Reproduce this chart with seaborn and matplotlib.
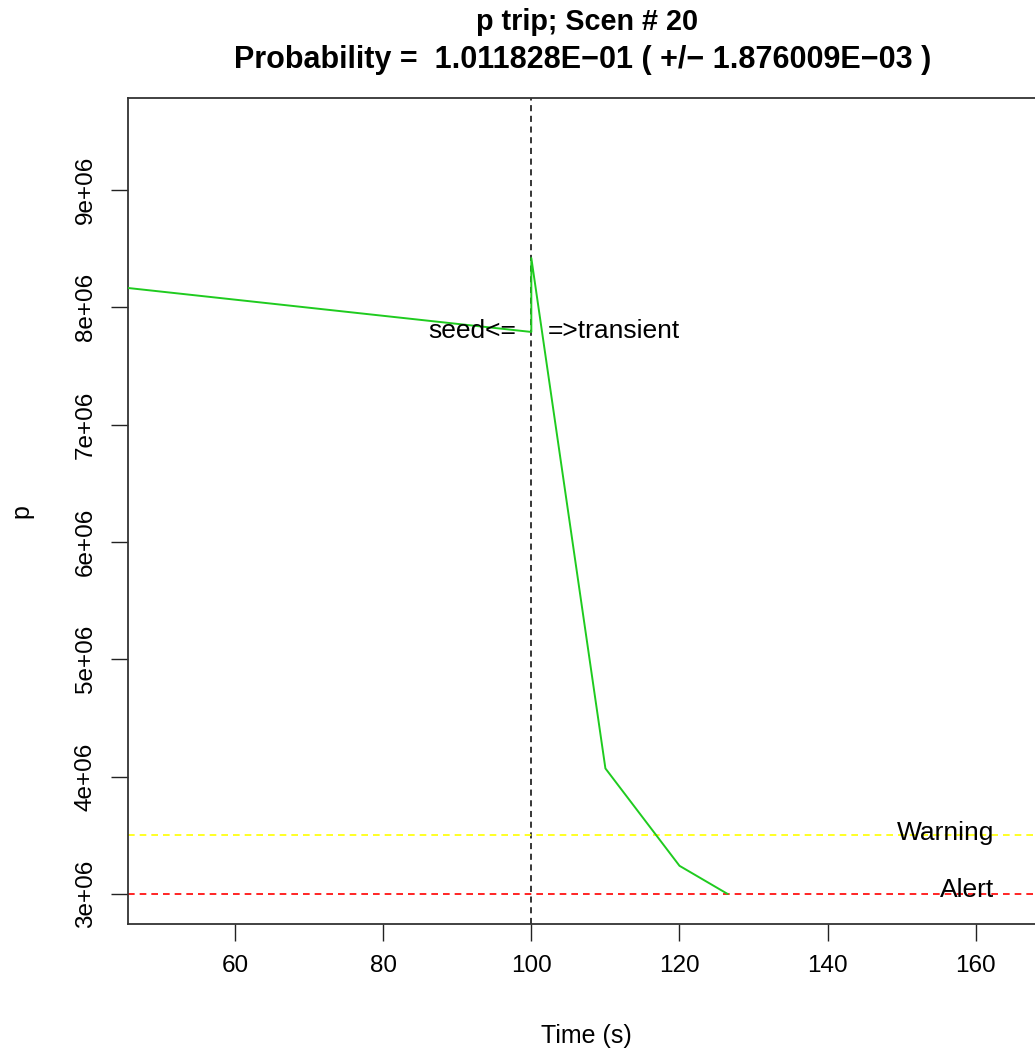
import matplotlib
matplotlib.use("Agg")
import matplotlib.pyplot as plt
import seaborn as sns
import pandas as pd

time_s = [40.0, 100.0, 100.0, 110.0, 120.0, 126.5]
pressure = [8.203e6, 7.79e6, 8.42e6, 4.07e6, 3.24e6, 3.0e6]
x_ticks = [60, 80, 100, 120, 140, 160]
y_ticks = [3e6, 4e6, 5e6, 6e6, 7e6, 8e6, 9e6]
y_tick_labels = ["3e+06", "4e+06", "5e+06", "6e+06", "7e+06", "8e+06", "9e+06"]
warning_level = 3.5e6
alert_level = 3.0e6
seed_time = 100
label_y = 7.8e6

sns.set_theme(style="white")
plt.rcParams['font.family'] = ['Liberation Sans', 'DejaVu Sans']

fig = plt.figure(figsize=(10.35, 10.53), dpi=100)
ax = fig.add_axes([128/1035, 1-924/1053, (1044-128)/1035, (924-98)/1053])

df = pd.DataFrame({"t": time_s, "p": pressure})
sns.lineplot(data=df, x="t", y="p", sort=False, estimator=None, ax=ax,
             color="#1FCB1F", lw=1.4, zorder=3)

ax.axvline(seed_time, color="black", ls=(0, (4, 3)), lw=1.1, zorder=2)
ax.axhline(warning_level, color="#FFFF00", ls=(0, (4, 3)), lw=1.2, zorder=2)
ax.axhline(alert_level, color="#FF0000", ls=(0, (4, 3)), lw=1.2, zorder=2)

ax.set_xlim(45.56, 169.2)
ax.set_ylim(2.744e6, 9.784e6)
ax.set_xticks(x_ticks)
ax.set_xticklabels([str(v) for v in x_ticks], fontsize=17.5, color="black")
ax.set_yticks(y_ticks)
ax.set_yticklabels(y_tick_labels, fontsize=17.5, rotation=90, va="center", color="black")
ax.tick_params(axis="both", direction="out", length=12.5, width=1.0, color="#222222",
               pad=10, bottom=True, left=True)

for s in ax.spines.values():
    s.set_color("#333333")
    s.set_linewidth(1.3)

ax.set_xlabel("Time (s)", fontsize=18, labelpad=34, color="black")
ax.set_ylabel("p", fontsize=18, labelpad=30, color="black")

ax.text(seed_time - 2.0, label_y, "seed<=", ha="right", va="center", fontsize=19, color="black")
ax.text(seed_time + 2.2, label_y, "=>transient", ha="left", va="center", fontsize=19, color="black")
ax.text(162.5, warning_level + 0.02e6, "Warning", ha="right", va="center", fontsize=19, color="black")
ax.text(162.5, alert_level + 0.03e6, "Alert", ha="right", va="center", fontsize=19, color="black")

fig.text(587/1035, 1-22/1053, "p trip; Scen # 20", ha="center", va="center",
         fontsize=20.7, fontweight="bold", color="black")
fig.text(583/1035, 1-60/1053, "Probability =  1.011828E\u221201 ( +/\u2212 1.876009E\u221203 )",
         ha="center", va="center", fontsize=22, fontweight="bold", color="black")

fig.savefig("out.png", dpi=100)
